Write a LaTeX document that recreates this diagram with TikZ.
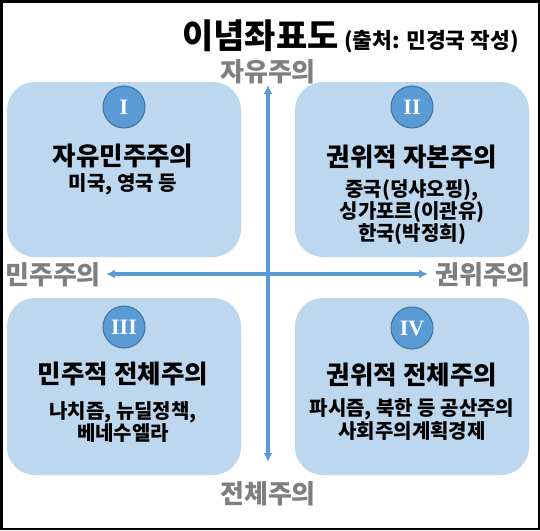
\documentclass[tikz,border=0pt]{standalone}
\usepackage{fontspec}
\usepackage{tikz}
\usetikzlibrary{arrows.meta,positioning}
\setmainfont{Noto Sans CJK KR}
\newfontfamily\romanfont{Liberation Serif}
\definecolor{ideoblue}{HTML}{5B9BD5}
\definecolor{ideodark}{HTML}{41719C}
\definecolor{ideobox}{HTML}{BDD7EE}
\definecolor{ideogray}{HTML}{7F7F7F}
\newcommand{\fs}[1]{\fontsize{#1}{#1}\selectfont}

\begin{document}
\begin{tikzpicture}[
    x=1pt,y=-1pt,
    font=\bfseries,
    quad/.style={fill=ideobox,rounded corners=28pt,minimum width=234pt,minimum height=175pt,inner sep=0pt},
    badge/.style={circle,draw=ideodark,line width=1pt,fill=ideoblue,minimum size=42pt,inner sep=0pt,text=white,font=\romanfont\bfseries\fs{22}},
    qtitle/.style={font=\bfseries\fs{25.5},inner sep=0pt},
    qsub/.style={font=\bfseries\fs{20},align=center,inner sep=0pt},
    axislabel/.style={text=ideogray,font=\bfseries\fs{26},inner sep=0pt},
    axis/.style={{Latex[length=9pt,width=9pt]}-{Latex[length=9pt,width=9pt]},line width=3.5pt,draw=ideoblue}
  ]
    \useasboundingbox (0,0) rectangle (540,530);
    \draw[line width=2.5pt] (1.25,1.25) rectangle (538.75,528.75);

    % title
    \node[font=\bfseries\fs{34},anchor=base west,inner sep=0pt] (title) at (182,48) {이념좌표도};
    \node[font=\bfseries\fs{21.5},anchor=base west,inner sep=0pt] (source) at ([xshift=5pt]title.base east) {(출처: 민경국 작성)};

    % quadrants
    \node[quad] (q1) at (124,169.5) {};
    \node[quad] (q2) at (412,169.5) {};
    \node[quad,minimum height=177pt] (q3) at (124,386.5) {};
    \node[quad,minimum height=177pt] (q4) at (412,386.5) {};

    \node[badge] (n1) at (124,107) {I};
    \node[badge] (n2) at (412,107) {II};
    \node[badge] (n3) at (124,327) {III};
    \node[badge] (n4) at (412,328) {IV};

    \node[qtitle] (t1) at (123,156) {자유민주주의};
    \node[qtitle] (t2) at (412,157) {권위적 자본주의};
    \node[qtitle] (t3) at (123,374) {민주적 전체주의};
    \node[qtitle] (t4) at (412,375) {권위적 전체주의};

    \node[qsub,anchor=north] (s1) at (123,173) {미국, 영국 등};
    \node[qsub,anchor=north] (s2) at (412,179) {중국(덩샤오핑),\\싱가포르(이관유)\\한국(박정희)};
    \node[qsub,anchor=north] (s3) at (123,401) {나치즘, 뉴딜정책,\\베네수엘라};
    \node[qsub,anchor=north] (s4) at (412,398) {파시즘, 북한 등 공산주의\\[1pt]사회주의계획경제};

    % axes
    \node[axislabel] (up) at (268,72) {자유주의};
    \node[axislabel] (down) at (268,494) {전체주의};
    \node[axislabel] (left) at (53,275) {민주주의};
    \node[axislabel] (right) at (483,275) {권위주의};
    \coordinate (ytop) at (268,85);
    \coordinate (ybot) at (268,462);
    \coordinate (xleft) at (106,274);
    \coordinate (xright) at (428,274);
    \draw[axis] (ytop) -- (ybot);
    \draw[axis] (xleft) -- (xright);
  \end{tikzpicture}
\end{document}
